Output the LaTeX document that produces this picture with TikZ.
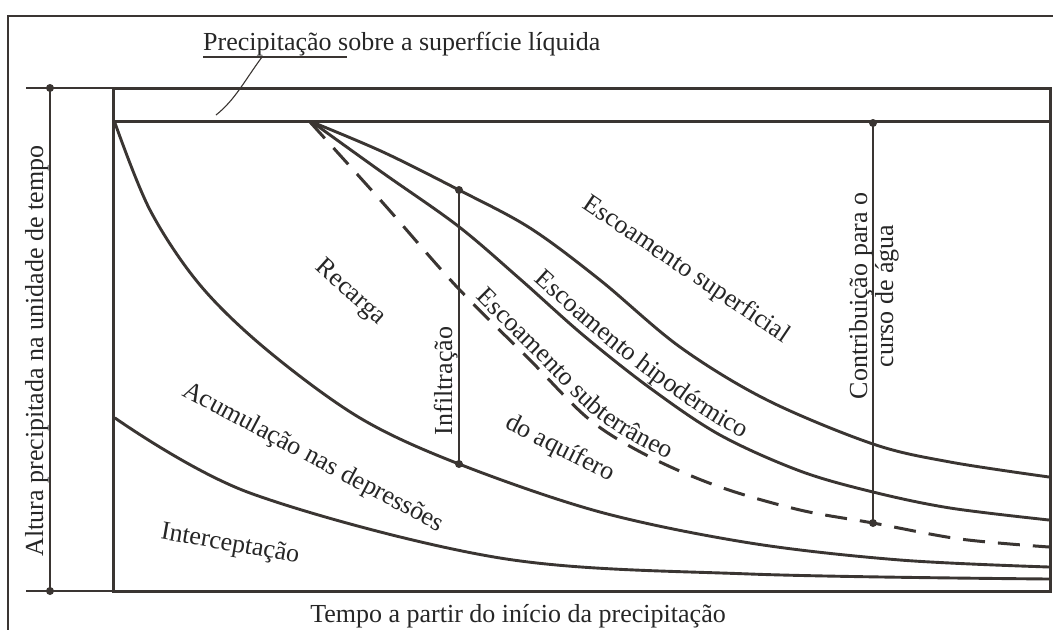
\documentclass[tikz,border=0pt]{standalone}
\usepackage{fontspec}
\setmainfont{Liberation Serif}
\usetikzlibrary{decorations.text}
\definecolor{inkc}{HTML}{3A3532}
\definecolor{txtc}{HTML}{262626}
\newcommand{\lblfont}{\fontsize{26}{28}\selectfont\color{txtc}}
\begin{document}
\begin{tikzpicture}[x=1pt,y=-1pt,
  frame/.style={draw=inkc, line width=1.4pt},
  boxline/.style={draw=inkc, line width=3pt},
  curve/.style={draw=inkc, line width=2.9pt, line cap=round},
  dashcurve/.style={draw=inkc, line width=3pt, dash pattern=on 22pt off 13pt},
  thinline/.style={draw=inkc, line width=1.1pt},
  dot/.style={circle, fill=inkc, inner sep=0pt, minimum size=8pt},
  lbl/.style={font=\lblfont, inner sep=0pt}
]
\useasboundingbox (0,0) rectangle (1053,630);
\fill[white] (0,0) rectangle (1053,630);

% outer frame (top and left edges)
\draw[frame] (1053,16) -- (8,16) -- (8,630);

% inner box
\draw[boxline] (113,88) rectangle (1050,591);
\draw[boxline] (113,121) -- (1050,121);

% left dimension
\coordinate (dimtop) at (50,88);
\coordinate (dimbot) at (50,591);
\draw[thinline] (26,88) -- (113,88);
\draw[thinline] (26,591) -- (113,591);
\draw[thinline] (dimtop) -- (dimbot);
\node[dot] at (dimtop) {};
\node[dot] at (dimbot) {};

% curves
\draw[curve] plot[smooth, tension=0.55] coordinates {(115,123) (150,210) (200,285) (267,350) (360,418) (459,464) (600,512) (750,543) (900,560) (1049,567)};
\draw[curve] plot[smooth, tension=0.55] coordinates {(115,418) (250,493) (500,558) (750,574) (1049,579)};
\draw[curve] plot[smooth, tension=0.55] coordinates {(312,122) (383,152) (459,190) (530,228) (600,280) (680,347) (767,400) (873,444) (950,462) (1049,477)};
\draw[curve] plot[smooth, tension=0.55] coordinates {(312,122) (383,173) (458,226) (520,279) (583,335) (650,388) (720,435) (800,471) (873,492) (950,508) (1049,520)};
\draw[dashcurve] plot[smooth, tension=0.55] coordinates {(310,122) (383,203) (457,287) (530,360) (590,420) (650,457) (720,487) (800,510) (873,523) (960,539) (1049,547)};

% curved labels following the curves
\path[decorate, decoration={text along path, text={|\lblfont|Escoamento hipodérmico}, text align={left indent=272pt}, raise=8pt}]
  plot[smooth, tension=0.55] coordinates {(312,122) (383,173) (458,226) (520,279) (583,335) (650,388) (720,435) (800,471) (873,492) (950,508) (1049,520)};
\path[decorate, decoration={text along path, text={|\lblfont|Escoamento subterrâneo}, text align={left indent=242pt}, raise=6pt}]
  plot[smooth, tension=0.55] coordinates {(310,122) (383,203) (457,287) (530,360) (590,420) (650,457) (720,487) (800,510) (873,523) (960,539) (1049,547)};

% infiltration and contribution lines
\coordinate (inftop) at (459,190);
\coordinate (infbot) at (459,464);
\coordinate (contop) at (873,123);
\coordinate (conbot) at (873,523);
\draw[thinline] (inftop) -- (infbot);
\draw[thinline] (contop) -- (conbot);
\node[dot] at (inftop) {};
\node[dot] at (infbot) {};
\node[dot] at (contop) {};
\node[dot] at (conbot) {};

% top label with underline and leader
\node[lbl, anchor=base west] (toplbl) at (203,50) {Precipitação sobre a superfície líquida};
\coordinate (ulA) at (203,57);
\coordinate (ulB) at (347,57);
\draw[thinline] (ulA) -- (ulB);
\coordinate (ldA) at (262,57);
\coordinate (ldB) at (216,115);
\draw[thinline] (ldA) .. controls (245,80) and (235,100) .. (ldB);

% axis labels
\node[lbl, rotate=90, anchor=base] (ylbl) at (43,351) {Altura precipitada na unidade de tempo};
\node[lbl, anchor=base] (xlbl) at (518,622) {Tempo a partir do início da precipitação};

% region labels
\node[lbl, rotate=-42] (rec) at (350,293) {Recarga};
\node[lbl, rotate=90, anchor=base] (inf) at (452,381) {Infiltração};
\node[lbl, rotate=-34] (sup) at (686,270) {Escoamento superficial};
\node[lbl, rotate=-27] (aq) at (560,449) {do aquífero};
\node[lbl, rotate=-28] (acu) at (313,458) {Acumulação nas depressões};
\node[lbl, rotate=-10] (int) at (230,545) {Interceptação};
\node[lbl, rotate=90, anchor=base] (con1) at (867,296) {Contribuição para o};
\node[lbl, rotate=90, anchor=base] (con2) at (893,296) {curso de água};
\end{tikzpicture}
\end{document}
